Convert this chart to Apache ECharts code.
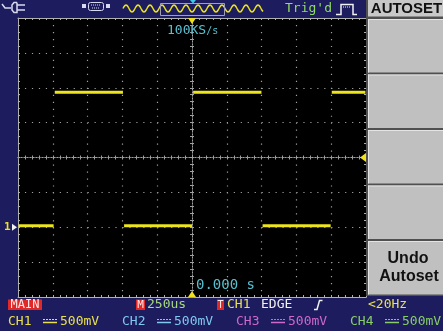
<!DOCTYPE html>
<html><head><meta charset="utf-8">
<script src="https://cdn.jsdelivr.net/npm/echarts@6/dist/echarts.min.js"></script>
<style>html,body{margin:0;padding:0;background:#1c1c5e;}#c{width:443px;height:331px;}</style>
</head><body><div id="c"></div>
<script>
// ---- data ----
const edgeTimesUs = [-1250, -990, -492, 4, 503, 1000, 1250];   // segment boundaries (us)
const levelsV     = [0.02, 1.935, 0.02, 1.935, 0.02, 1.935];    // CH1 level on each segment (V)
const timeRangeUs = [-1250, 1250];
const usPerDiv    = 250;
const voltRangeV  = [-1, 3];
const voltsPerDiv = 0.5;
const triggerTimeUs = 0;
const triggerLevelV = 1.0;
const groundV = 0;
const sampleRateText = '100KS';
const timeOffsetText = '0.000 s';
const timebaseText = '250us';
const chLabels = ['CH1', 'CH2', 'CH3', 'CH4'];
const chScales = ['500mV', '500mV', '500mV', '500mV'];
const menuTitle = 'AUTOSET';
const menuButton = ['Undo', 'Autoset'];

// ---- build trace (horizontal runs only; edges not sampled) ----
const trace = [];
levelsV.forEach((v, i) => {
  trace.push([edgeTimesUs[i] + 4, v]);
  trace.push([edgeTimesUs[i + 1] - 4, v]);
  trace.push([edgeTimesUs[i + 1], '-']);
});

const GRIDC = '#a0a0a0', BORDER = '#b0b0b0';
const MONO = '"DejaVu Sans Mono", monospace';
function xAx(extra) {
  return Object.assign({type: 'value', min: timeRangeUs[0], max: timeRangeUs[1], interval: usPerDiv,
    axisLabel: {show: false}, splitLine: {show: false}, minorSplitLine: {show: false}}, extra);
}
function yAx(extra) {
  return Object.assign({type: 'value', min: voltRangeV[0], max: voltRangeV[1], interval: voltsPerDiv,
    axisLabel: {show: false}, splitLine: {show: false}, minorSplitLine: {show: false}}, extra);
}
const tick = (inside, c) => ({show: true, inside, length: 2, lineStyle: {color: c, width: 1}});
const minor = (c) => ({show: true, splitNumber: 5, length: 2, lineStyle: {color: c, width: 1}});

const chart = echarts.init(document.getElementById('c'), null, {renderer: 'canvas', width: 443, height: 331});
chart.setOption({
  animation: false,
  backgroundColor: '#1c1c5e',
  grid: {left: 18, top: 18, width: 348, height: 279, show: true, backgroundColor: '#000', borderWidth: 0},
  xAxis: [
    xAx({position: 'bottom', axisLine: {show: true, onZero: false, lineStyle: {color: BORDER}},
      axisTick: tick(true, BORDER), minorTick: minor(BORDER),
      splitLine: {show: true, lineStyle: {color: GRIDC, width: 1.2, type: [1.2, 5.775]}}}),
    xAx({position: 'top', axisLine: {show: true, onZero: false, lineStyle: {color: BORDER}},
      axisTick: tick(true, BORDER), minorTick: minor(BORDER)}),
    xAx({position: 'bottom', axisLine: {show: true, onZero: true, onZeroAxisIndex: 1, lineStyle: {color: GRIDC, type: [1, 2]}},
      axisTick: tick(true, GRIDC), minorTick: minor(GRIDC)}),
    xAx({position: 'bottom', axisLine: {show: true, onZero: true, onZeroAxisIndex: 1, lineStyle: {color: GRIDC, type: [1, 2]}},
      axisTick: tick(false, GRIDC), minorTick: minor(GRIDC)})
  ],
  yAxis: [
    yAx({position: 'left', axisLine: {show: true, onZero: false, lineStyle: {color: BORDER}},
      axisTick: tick(true, BORDER), minorTick: minor(BORDER),
      splitLine: {show: true, lineStyle: {color: GRIDC, width: 1.2, type: [1.2, 5.76]}}}),
    {type: 'value', min: -4, max: 4, show: false},
    yAx({position: 'right', axisLine: {show: true, onZero: false, lineStyle: {color: BORDER}},
      axisTick: tick(true, BORDER), minorTick: minor(BORDER)}),
    yAx({position: 'left', axisLine: {show: true, onZero: true, onZeroAxisIndex: 0, lineStyle: {color: GRIDC, type: [1, 2]}},
      axisTick: tick(true, GRIDC), minorTick: minor(GRIDC)}),
    yAx({position: 'left', axisLine: {show: true, onZero: true, onZeroAxisIndex: 0, lineStyle: {color: GRIDC, type: [1, 2]}},
      axisTick: tick(false, GRIDC), minorTick: minor(GRIDC)})
  ],
  series: [{
    type: 'line', xAxisIndex: 0, yAxisIndex: 0, data: trace, showSymbol: false, symbol: 'none',
    connectNulls: false, silent: true, z: 5,
    lineStyle: {color: '#ece41c', width: 3}
  }]
});

// ---- decorations ----
const g = [];
function rect(x, y, w, h, fill, z) { g.push({type: 'rect', shape: {x, y, width: w, height: h}, style: {fill}, silent: true, z: z || 10}); }
function line(x1, y1, x2, y2, stroke, w, dash) { g.push({type: 'line', shape: {x1, y1, x2, y2}, style: {stroke, lineWidth: w || 1, lineDash: dash || null}, silent: true, z: 11}); }
function poly(points, stroke, w) { g.push({type: 'polyline', shape: {points}, style: {stroke, lineWidth: w || 1, fill: null}, silent: true, z: 11}); }
function polygon(points, fill) { g.push({type: 'polygon', shape: {points}, style: {fill}, silent: true, z: 12}); }
function text(x, y, str, fill, font, align, rich) {
  const st = {text: str, fill, font, textAlign: align || 'left', align: align || 'left', textVerticalAlign: 'middle', verticalAlign: 'middle'};
  if (rich) st.rich = rich;
  g.push({type: 'text', x, y, style: st, silent: true, z: 13});
}

// right menu panel
rect(366, 0, 77, 296, '#505050');
rect(368, 0, 75, 16.5, '#c8c8c8');
[19, 74.5, 130, 185.5, 241].forEach(t => {
  rect(368, t, 75, 53.5, '#c0c0c0');
  line(368, t + 0.5, 443, t + 0.5, '#e4e4e4', 1);
  line(368.5, t, 368.5, t + 53.5, '#e4e4e4', 1);
});
text(406.5, 8.5, menuTitle, '#111', 'bold 15px "Liberation Sans", Arial, sans-serif', 'center');
text(408, 259, menuButton[0], '#111', 'bold 16px "Liberation Sans", Arial, sans-serif', 'center');
text(409, 276.5, menuButton[1], '#111', 'bold 16px "Liberation Sans", Arial, sans-serif', 'center');

// top bar: plug icon
const ICON = '#d8d8f0';
poly([[2, 4], [5, 8], [11, 8]], ICON, 1.5);
poly([[17, 2.5], [14, 2.5], [12, 5], [12, 10], [14, 12.5], [17, 12.5], [17, 2.5]], ICON, 1.5);
line(17, 5, 25, 5, ICON, 1.5);
line(17, 10, 25, 10, ICON, 1.5);
// connector icon
rect(82, 4, 4, 4, ICON, 11);
rect(106, 4, 4, 4, ICON, 11);
g.push({type: 'rect', shape: {x: 88.5, y: 2.5, width: 15, height: 8, r: 2}, style: {fill: null, stroke: ICON, lineWidth: 1}, silent: true, z: 11});
line(91, 5, 101, 5, ICON, 1, [1, 1]);
line(92, 8, 100, 8, ICON, 1, [1, 1]);
// waveform overview
const wavePts = [];
for (let x = 123; x <= 263; x += 1) wavePts.push([x, 8.5 - 3.5 * Math.sin((x - 123) / 12 * 2 * Math.PI)]);
poly(wavePts, '#e8e020', 1.5);
g.push({type: 'rect', shape: {x: 160.5, y: 3.5, width: 64, height: 12}, style: {fill: null, stroke: '#a0a0b0', lineWidth: 1}, silent: true, z: 12});
polygon([[190, 0], [196, 0], [193, 3.5]], '#40c8e8');
text(285, 9, "Trig'd", '#90dc60', '13px ' + MONO, 'left');
poly([[336, 14.5], [341, 14.5], [341, 4.5], [353, 4.5], [353, 14.5], [357, 14.5]], '#f0f0f0', 1.5);
line(343, 7, 351, 7, '#f0f0f0', 1, [1, 1]);

// in-screen readouts
text(167, 31, '{a|' + sampleRateText + '}{b|/s}', '#58c0d0', '13px ' + MONO, 'left',
  {a: {fill: '#58c0d0', font: '13px ' + MONO}, b: {fill: '#58c0d0', font: '10px ' + MONO}});
text(196, 285, timeOffsetText, '#58c0d0', '14px ' + MONO, 'left');

// markers from scales
const trig = chart.convertToPixel({seriesIndex: 0}, [triggerTimeUs, triggerLevelV]);
const gnd = chart.convertToPixel({seriesIndex: 0}, [timeRangeUs[0], groundV]);
const yTop = 18, yBot = 297, xRight = 366, xLeft = 18;
polygon([[trig[0] - 4, yTop], [trig[0] + 4, yTop], [trig[0], yTop + 6]], '#f0e020');
polygon([[trig[0] - 4, yBot], [trig[0] + 4, yBot], [trig[0], yBot - 6]], '#f0e020');
polygon([[xRight, trig[1] - 4.5], [xRight, trig[1] + 4.5], [xRight - 6, trig[1]]], '#f0e020');
polygon([[xLeft - 6, gnd[1] - 3.5], [xLeft - 6, gnd[1] + 3.5], [xLeft - 1, gnd[1]]], '#f0f0f0');
text(4, gnd[1], '1', '#f0e020', 'bold 11px ' + MONO, 'left');

// status bar row 1
rect(8, 299.5, 34, 10.5, '#e02828');
text(25, 305, 'MAIN', '#ffe8e8', '12px ' + MONO, 'center');
rect(136, 299.5, 9, 10.5, '#e02828');
text(140.5, 305, 'M', '#ffe8e8', '11px ' + MONO, 'center');
text(147, 305, timebaseText, '#a8d880', '13px ' + MONO, 'left');
rect(217, 299.5, 7, 10.5, '#e02828');
text(220.5, 305, 'T', '#ffe8e8', '10px ' + MONO, 'center');
text(227, 305, chLabels[0], '#e8e050', '13px ' + MONO, 'left');
text(261, 305, 'EDGE', '#f0f0f0', '13px ' + MONO, 'left');
poly([[314, 309.5], [317, 309.5], [319.5, 300.5], [322.5, 300.5]], '#f0f0f0', 1.5);
text(368, 305, '<20Hz', '#e8e050', '13px ' + MONO, 'left');

// status bar row 2
const chColors = ['#e8e050', '#80c8f0', '#d068c8', '#88cc68'];
chLabels.forEach((lab, i) => {
  const x0 = 8 + i * 114;
  text(x0, 322, lab, chColors[i], '13px ' + MONO, 'left');
  line(x0 + 35, 319.5, x0 + 49, 319.5, chColors[i], 1, [2, 1]);
  line(x0 + 35, 322.5, x0 + 49, 322.5, chColors[i], 1.5);
  text(x0 + 52, 322, chScales[i], chColors[i], '13px ' + MONO, 'left');
});

chart.setOption({graphic: {elements: g}});
</script>
</body></html>
